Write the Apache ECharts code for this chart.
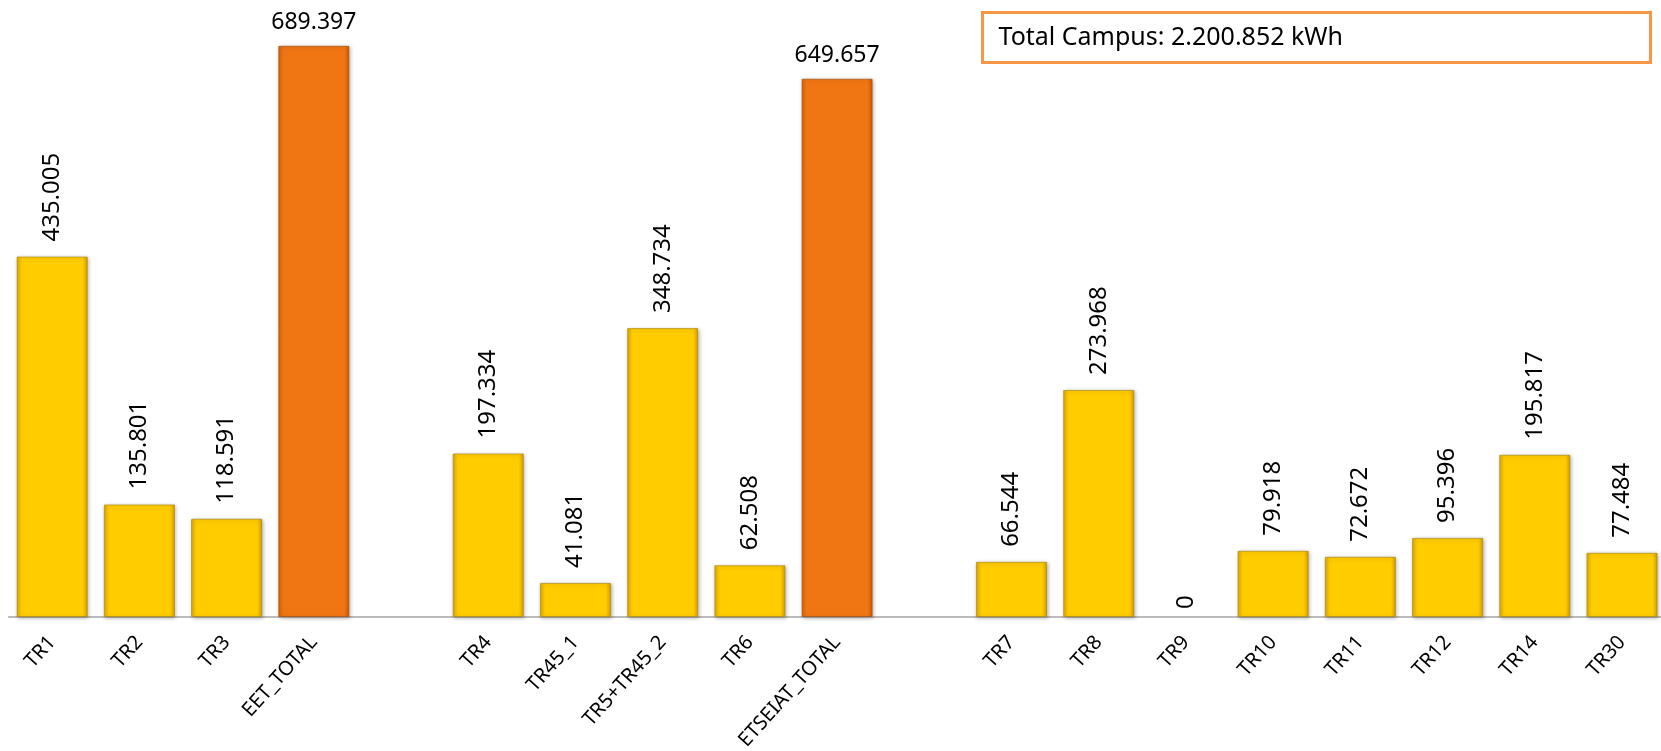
<!DOCTYPE html>
<html>
<head>
<meta charset="utf-8">
<script src="https://cdn.jsdelivr.net/npm/echarts@6/dist/echarts.min.js"></script>
<style>
  html, body { margin: 0; padding: 0; background: #fff; }
  #main { width: 1661px; height: 751px; }
</style>
</head>
<body>
<div id="main"></div>
<script>
// energy per transformer, kWh (blank slots are the gaps between buildings)
var categories = ['TR1', 'TR2', 'TR3', 'EET_TOTAL', ' ', 'TR4', 'TR45_1', 'TR5+TR45_2', 'TR6', 'ETSEIAT_TOTAL', '  ',
  'TR7', 'TR8', 'TR9', 'TR10', 'TR11', 'TR12', 'TR14', 'TR30'];
var values = [435005, 135801, 118591, 689397, null, 197334, 41081, 348734, 62508, 649657, null,
  66544, 273968, 0, 79918, 72672, 95396, 195817, 77484];
var totals = ['EET_TOTAL', 'ETSEIAT_TOTAL'];
var campusTotal = 2200852;

function fmt(v) {
  return String(v).replace(/\B(?=(\d{3})+(?!\d))/g, '.');
}

var yellow = new echarts.graphic.LinearGradient(0, 0, 1, 0, [
  { offset: 0, color: '#DDA800' },
  { offset: 0.07, color: '#FFCC00' },
  { offset: 0.93, color: '#FFCC00' },
  { offset: 1, color: '#D4A000' }
]);
var orange = new echarts.graphic.LinearGradient(0, 0, 1, 0, [
  { offset: 0, color: '#D96408' },
  { offset: 0.07, color: '#F07613' },
  { offset: 0.93, color: '#F07613' },
  { offset: 1, color: '#C95A05' }
]);

var seriesData = values.map(function (v, i) {
  if (v === null) return null;
  var isTotal = totals.indexOf(categories[i]) >= 0;
  var item = {
    value: v,
    itemStyle: {
      color: isTotal ? orange : yellow,
      borderColor: isTotal ? 'rgba(160,70,0,0.6)' : 'rgba(170,130,0,0.6)'
    }
  };
  if (isTotal) {
    item.label = { rotate: 0, align: 'center', verticalAlign: 'bottom', fontSize: 23, distance: 12 };
  } else if (v === 0) {
    item.itemStyle.borderWidth = 0;
    item.itemStyle.shadowBlur = 0;
    item.itemStyle.shadowOffsetX = 0;
    item.itemStyle.shadowOffsetY = 0;
    item.label = { distance: 8 };
  }
  return item;
});

var myChart = echarts.init(document.getElementById('main'));
var option = {
  animation: false,
  grid: { left: 8.6, width: 1657, top: 37, bottom: 134, containLabel: false, outerBoundsMode: 'none' },
  xAxis: {
    type: 'category',
    data: categories,
    axisLine: { lineStyle: { color: '#a6a6a6', width: 1.5 } },
    axisTick: { show: false },
    axisLabel: {
      interval: 0,
      rotate: 48,
      margin: 22,
      fontSize: 20,
      color: '#000',
      fontFamily: 'Noto Sans'
    }
  },
  yAxis: {
    type: 'value',
    min: 0,
    max: 700000,
    show: false,
    splitLine: { show: false }
  },
  series: [{
    type: 'bar',
    data: seriesData,
    barWidth: '81.5%',
    itemStyle: {
      borderWidth: 1,
      shadowColor: 'rgba(0,0,0,0.3)',
      shadowBlur: 4,
      shadowOffsetX: 1,
      shadowOffsetY: 1
    },
    label: {
      show: true,
      position: 'top',
      rotate: 90,
      align: 'left',
      verticalAlign: 'middle',
      distance: 15,
      fontSize: 24,
      color: '#000',
      fontFamily: 'Noto Sans',
      formatter: function (p) { return fmt(p.value); }
    }
  }],
  graphic: [{
    type: 'group',
    left: 981,
    top: 11,
    children: [{
      type: 'rect',
      shape: { x: 0, y: 0, width: 668, height: 50 },
      style: { fill: '#fff', stroke: '#F79646', lineWidth: 3 }
    }, {
      type: 'text',
      x: 16,
      y: 25,
      style: {
        text: 'Total Campus: ' + fmt(campusTotal) + ' kWh',
        fontSize: 25,
        fontFamily: 'Noto Sans',
        fill: '#000',
        verticalAlign: 'middle'
      }
    }]
  }]
};
myChart.setOption(option);
</script>
</body>
</html>
